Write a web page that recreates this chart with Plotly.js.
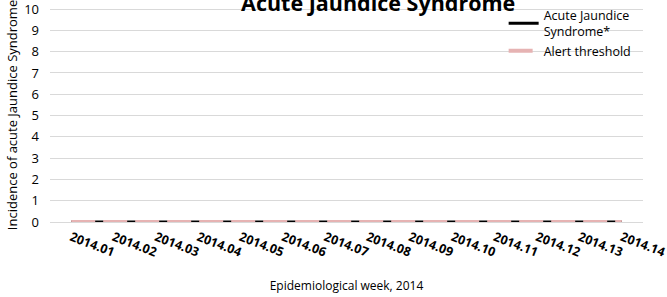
<!DOCTYPE html>
<html><head><meta charset="utf-8">
<script src="https://cdn.plot.ly/plotly-3.0.1.min.js"></script>
<style>html,body{margin:0;padding:0;background:#fff}#c{width:667px;height:297px}</style>
</head><body><div id="c"></div>
<script>
const weeks = ["2014.01","2014.02","2014.03","2014.04","2014.05","2014.06","2014.07","2014.08","2014.09","2014.10","2014.11","2014.12","2014.13","2014.14"];
const ajsCases = [0,0,0,0,0,0,0,0,0,0,0,0,0,0];
const alertThreshold = [0,0,0,0,0,0,0,0,0,0,0,0,0,0];
const yTicks = [0,1,2,3,4,5,6,7,8,9,10];

const font = "Open Sans, Liberation Sans, sans-serif";
const traces = [
  {x: weeks, y: ajsCases, type: 'scatter', mode: 'lines', name: 'Acute Jaundice<br>Syndrome*',
   line: {color: '#000000', width: 3}},
  {x: weeks, y: alertThreshold, type: 'scatter', mode: 'lines', name: 'Alert threshold',
   line: {color: '#E6B3B3', width: 4, dash: '24px,8px'}}
];
const layout = {
  width: 667, height: 297,
  margin: {l: 50, r: 24, t: 8, b: 75, autoexpand: false},
  paper_bgcolor: '#fff', plot_bgcolor: '#fff',
  font: {family: font, color: '#000', size: 12},
  title: {text: '<b>Acute Jaundice Syndrome</b>', font: {size: 21.5, family: font, color: '#000'},
          x: 0.567, xanchor: 'center', yref: 'container', y: 0.99, yanchor: 'middle'},
  xaxis: {type: 'category', range: [-0.5, 13.5], tickangle: 21, showgrid: false, zeroline: false,
          showline: false, ticks: '', ticklabelstandoff: 5, tickfont: {size: 12.5, family: font, weight: 'bold'},
          title: {text: 'Epidemiological week, 2014', font: {size: 12, family: font}, standoff: 22}},
  yaxis: {range: [0, 10.05], tickvals: yTicks, showgrid: true, gridcolor: '#D9D9D9', gridwidth: 1,
          zeroline: true, zerolinecolor: '#D9D9D9', showline: false, ticks: '', ticklabelstandoff: 10,
          ticklabeloverflow: 'allow',
          tickfont: {size: 13, family: font},
          title: {text: 'Incidence of acute Jaundice Syndrome', font: {size: 13, family: font}, standoff: 3}},
  legend: {x: 0.765, y: 1.035, xanchor: 'left', yanchor: 'top', bgcolor: 'rgba(0,0,0,0)',
           font: {size: 12.5, family: font}, tracegroupgap: 0},
  showlegend: true
};
Plotly.newPlot('c', traces, layout, {displayModeBar: false, staticPlot: true});
</script></body></html>
